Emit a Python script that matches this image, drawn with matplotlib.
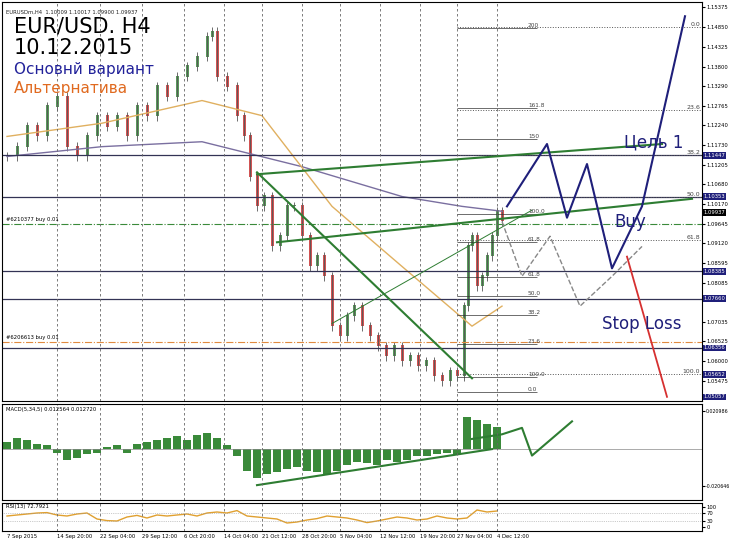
import matplotlib
matplotlib.use('Agg')
import matplotlib.pyplot as plt
import numpy as np

W, H = 730, 547

# price path (bar position, close)
bar_x = [5, 15, 25, 35, 45, 55, 65, 75, 85, 95, 105, 115, 125, 135, 145, 155, 165, 175, 185, 195,
         205, 210, 215, 225, 235, 242, 248, 255, 262, 270, 278, 285, 292, 300, 308, 315, 322, 330,
         338, 345, 352, 360, 368, 376, 384, 392, 400, 408, 416, 424, 432, 440, 448, 455, 462, 466,
         470, 475, 480, 485, 490, 495, 500]
close = [1.1142, 1.1168, 1.1221, 1.1195, 1.1274, 1.1300, 1.1168, 1.1142, 1.1195, 1.1248, 1.1221,
         1.1248, 1.1195, 1.1274, 1.1248, 1.1327, 1.1300, 1.1353, 1.1380, 1.1406, 1.1459, 1.1472,
         1.1353, 1.1327, 1.1248, 1.1195, 1.1089, 1.1010, 1.1036, 1.0904, 1.0931, 1.1010, 1.1010,
         1.0931, 1.0851, 1.0878, 1.0825, 1.0693, 1.0666, 1.0719, 1.0746, 1.0693, 1.0666, 1.0640,
         1.0613, 1.0640, 1.0600, 1.0613, 1.0587, 1.0600, 1.0560, 1.0547, 1.0574, 1.0560, 1.0746,
         1.0904, 1.0931, 1.0798, 1.0825, 1.0878, 1.0931, 1.0997, 1.0970]
ma_slow_x = [5, 100, 200, 300, 400, 460, 500]
ma_slow = [1.1142, 1.1168, 1.1181, 1.1115, 1.1036, 1.1010, 1.0997]
ma_fast_x = [5, 100, 200, 260, 330, 400, 470, 500]
ma_fast = [1.1195, 1.1230, 1.1290, 1.1250, 1.1010, 1.0851, 1.0693, 1.0746]

levels = [1.11447, 1.10353, 1.08385, 1.07660, 1.06356]
price_ticks = [1.15375, 1.14850, 1.14325, 1.13800, 1.13290, 1.12765, 1.12240, 1.11730, 1.11205,
               1.10680, 1.10170, 1.09645, 1.09120, 1.08595, 1.08085, 1.07035, 1.06525,
               1.06000, 1.05475]
fib_right = [(1.14850, '0.0'), (1.12640, '23.6'), (1.11447, '38.2'), (1.10353, '50.0'),
             (1.09200, '61.8'), (1.05652, '100.0')]
fib_mid = [(1.1483, '200'), (1.1271, '161.8'), (1.1189, '150'), (1.0990, '100.0'),
           (1.0917, '61.8'), (1.0823, '61.8'), (1.0773, '50.0'), (1.0722, '38.2'),
           (1.0646, '23.6'), (1.0558, '100.0'), (1.0520, '0.0')]
date_x = [5, 55, 98, 140, 182, 222, 260, 300, 338, 378, 418, 455, 495]
date_labels = ['7 Sep 2015', '14 Sep 20:00', '22 Sep 04:00', '29 Sep 12:00', '6 Oct 20:00',
               '14 Oct 04:00', '21 Oct 12:00', '28 Oct 20:00', '5 Nov 04:00', '12 Nov 12:00',
               '19 Nov 20:00', '27 Nov 04:00', '4 Dec 12:00']
plan_x = [505, 545, 565, 585, 610, 640, 683]
plan_y = [1.1010, 1.1175, 1.0980, 1.1122, 1.0846, 1.1010, 1.1513]
alt_x = [500, 520, 548, 578, 610, 640]
alt_y = [1.0970, 1.0825, 1.0931, 1.0746, 1.0825, 1.0904]
stop_x = [625, 665]
stop_y = [1.0877, 1.0506]

macd_x = list(range(5, 500, 10))
macd = [.004, .006, .005, .003, .002, -.002, -.006, -.005, -.003, -.002, .001, .002, -.002, .003,
        .004, .005, .006, .007, .005, .008, .009, .006, .002, -.004, -.012, -.016, -.014, -.013,
        -.011, -.010, -.012, -.013, -.014, -.012, -.009, -.007, -.008, -.009, -.006, -.007, -.006,
        -.004, -.004, -.003, -.002, -.003, .018, .016, .014, .012]
rsi = [55, 60, 65, 70, 72, 60, 55, 65, 70, 40, 32, 30, 50, 58, 45, 60, 55, 60, 65, 55, 70, 75,
       70, 82, 55, 50, 45, 40, 20, 25, 35, 42, 55, 50, 45, 35, 22, 30, 40, 50, 45, 35, 40, 55, 45,
       40, 45, 85, 75, 80]

navy = '#1f1f7a'
fs = 3.8
fig = plt.figure(figsize=(W / 100, H / 100), dpi=100)
fig.patch.set_facecolor('white')

def px_axes(x0, y0, x1, y1):
    return fig.add_axes([x0 / W, 1 - y1 / H, (x1 - x0) / W, (y1 - y0) / H])

ax = px_axes(2, 2, 702, 401)
ax.set_xlim(0, 700)
p_top = 1.15375 + 5 * 0.0002646
ax.set_ylim(p_top - 399 * 0.0002646, p_top)

# candles
opens = [close[0]] + close[:-1]
for x, o, c in zip(bar_x, opens, close):
    col = '#2e7d32' if c >= o else '#c62828'
    ax.vlines(x, min(o, c) - 0.0012, max(o, c) + 0.0012, color='#555555', lw=0.6)
    ax.bar(x, abs(c - o) + 0.0003, bottom=min(o, c), width=3, color=col, alpha=0.8)
ax.plot(ma_slow_x, ma_slow, color='#7a6fa0', lw=1)
ax.plot(ma_fast_x, ma_fast, color='#e0b060', lw=1)
for lv in levels:
    ax.axhline(lv, color='#333355', lw=0.9)
ax.axhline(1.09645, xmin=0, color='#3a8a3a', lw=0.8, ls='-.')
ax.axhline(1.06500, color='#e08a40', lw=0.8, ls='-.')
for lv, lab in fib_right:
    ax.hlines(lv, 455, 700, color='#555555', lw=0.7, ls=':')
    ax.text(698, lv, lab, fontsize=4.5, ha='right', va='bottom', color='#444444')
for lv, lab in fib_mid:
    ax.hlines(lv, 455, 535, color='#333333', lw=0.5)
    ax.text(526, lv, lab, fontsize=4.2, ha='left', va='bottom', color='#444444')
for x in date_x[1:]:
    ax.axvline(x, color='#666666', lw=0.6, ls=(0, (3, 3)))
# trend lines
ax.plot([255, 660], [1.1095, 1.1175], color='#2e7d32', lw=1.5)
ax.plot([275, 690], [1.0915, 1.1030], color='#2e7d32', lw=1.5)
ax.plot([255, 470], [1.1100, 1.0555], color='#2e7d32', lw=1.5)
ax.plot([330, 530], [1.0700, 1.1000], color='#2e7d32', lw=0.7)
ax.plot(plan_x, plan_y, color=navy, lw=1.5)
ax.plot(alt_x, alt_y, color='#888888', lw=1, ls='--')
ax.plot(stop_x, stop_y, color='#d63030', lw=1.3)
ax.text(622, 1.1165, 'Цель 1', fontsize=12, color=navy)
ax.text(612, 1.0955, 'Buy', fontsize=12, color=navy)
ax.text(600, 1.0685, 'Stop Loss', fontsize=12, color=navy)
ax.text(12, 1.1470, 'EUR/USD. H4', fontsize=15, color='black')
ax.text(12, 1.1412, '10.12.2015', fontsize=15, color='black')
ax.text(12, 1.1360, 'Основнй вариант', fontsize=11, color='#22229a')
ax.text(12, 1.1310, 'Альтернатива', fontsize=11, color='#e06a20')
ax.text(4, 1.1520, 'EURUSDm,H4  1.10009 1.10017 1.09900 1.09937', fontsize=fs, color='#222222')
ax.text(4, 1.0970, '#6210377 buy 0.01', fontsize=fs)
ax.text(4, 1.0660, '#6206613 buy 0.01', fontsize=fs)
ax.yaxis.tick_right()
ax.tick_params(axis='y', length=2, pad=1)
ax.set_yticks(price_ticks)
ax.set_yticklabels([f'{v:.5f}' for v in price_ticks], fontsize=fs)
for lv in levels + [1.05652, 1.05057]:
    ax.text(1.002, lv, f'{lv:.5f}', transform=ax.get_yaxis_transform(), fontsize=fs,
            color='white', va='center', bbox=dict(fc=navy, ec='none', pad=0.6))
ax.text(1.002, 1.09937, '1.09937', transform=ax.get_yaxis_transform(), fontsize=fs,
        color='white', va='center', bbox=dict(fc='black', ec='none', pad=0.6))
ax.set_xticks([])

# MACD
am = px_axes(2, 404, 702, 500)
am.set_xlim(0, 700)
am.set_ylim(-0.0284, 0.025)
am.bar(macd_x, macd, width=8, color='#3a8a3a')
am.axhline(0, color='#888888', lw=0.5)
mx = [255, 490]
my = [0.020986 - (492 - 412) * 0.000514, 0.020986 - (453 - 412) * 0.000514]
am.plot(mx, my, color='#2e7d32', lw=1.5)
fx = [470, 500, 520, 530, 570]
fy = [0.020986 - (y - 412) * 0.000514 for y in [442, 437, 430, 460, 423]]
am.plot(fx, fy, color='#2e7d32', lw=1.5)
for x in date_x[1:]:
    am.axvline(x, color='#666666', lw=0.6, ls=(0, (3, 3)))
am.yaxis.tick_right()
am.tick_params(axis='y', length=2, pad=1)
am.set_yticks([0.020986, -0.020646])
am.set_yticklabels(['0.020986', '-0.020646'], fontsize=3.4)
am.set_xticks([])
am.text(4, 0.021, 'MACD(5,34,5) 0.012564 0.012720', fontsize=fs)

# RSI
ar = px_axes(2, 503, 702, 531)
ar.set_xlim(0, 700)
ar.set_ylim(-20, 120)
ar.plot(macd_x, rsi, color='#e0a030', lw=1)
ar.axhline(70, color='#999999', lw=0.5, ls=':')
ar.axhline(30, color='#999999', lw=0.5, ls=':')
for x in date_x[1:]:
    ar.axvline(x, color='#666666', lw=0.6, ls=(0, (3, 3)))
ar.yaxis.tick_right()
ar.tick_params(axis='y', length=2, pad=1)
ar.set_yticks([100, 70, 30, 0])
ar.set_yticklabels(['100', '70', '30', '0'], fontsize=fs)
ar.set_xticks(date_x)
ar.set_xticklabels(date_labels, fontsize=fs, ha='left')
ar.tick_params(axis='x', length=0, pad=2)
ar.text(4, 95, 'RSI(13) 72.7921', fontsize=fs)

fig.savefig('out.png', dpi=100)
